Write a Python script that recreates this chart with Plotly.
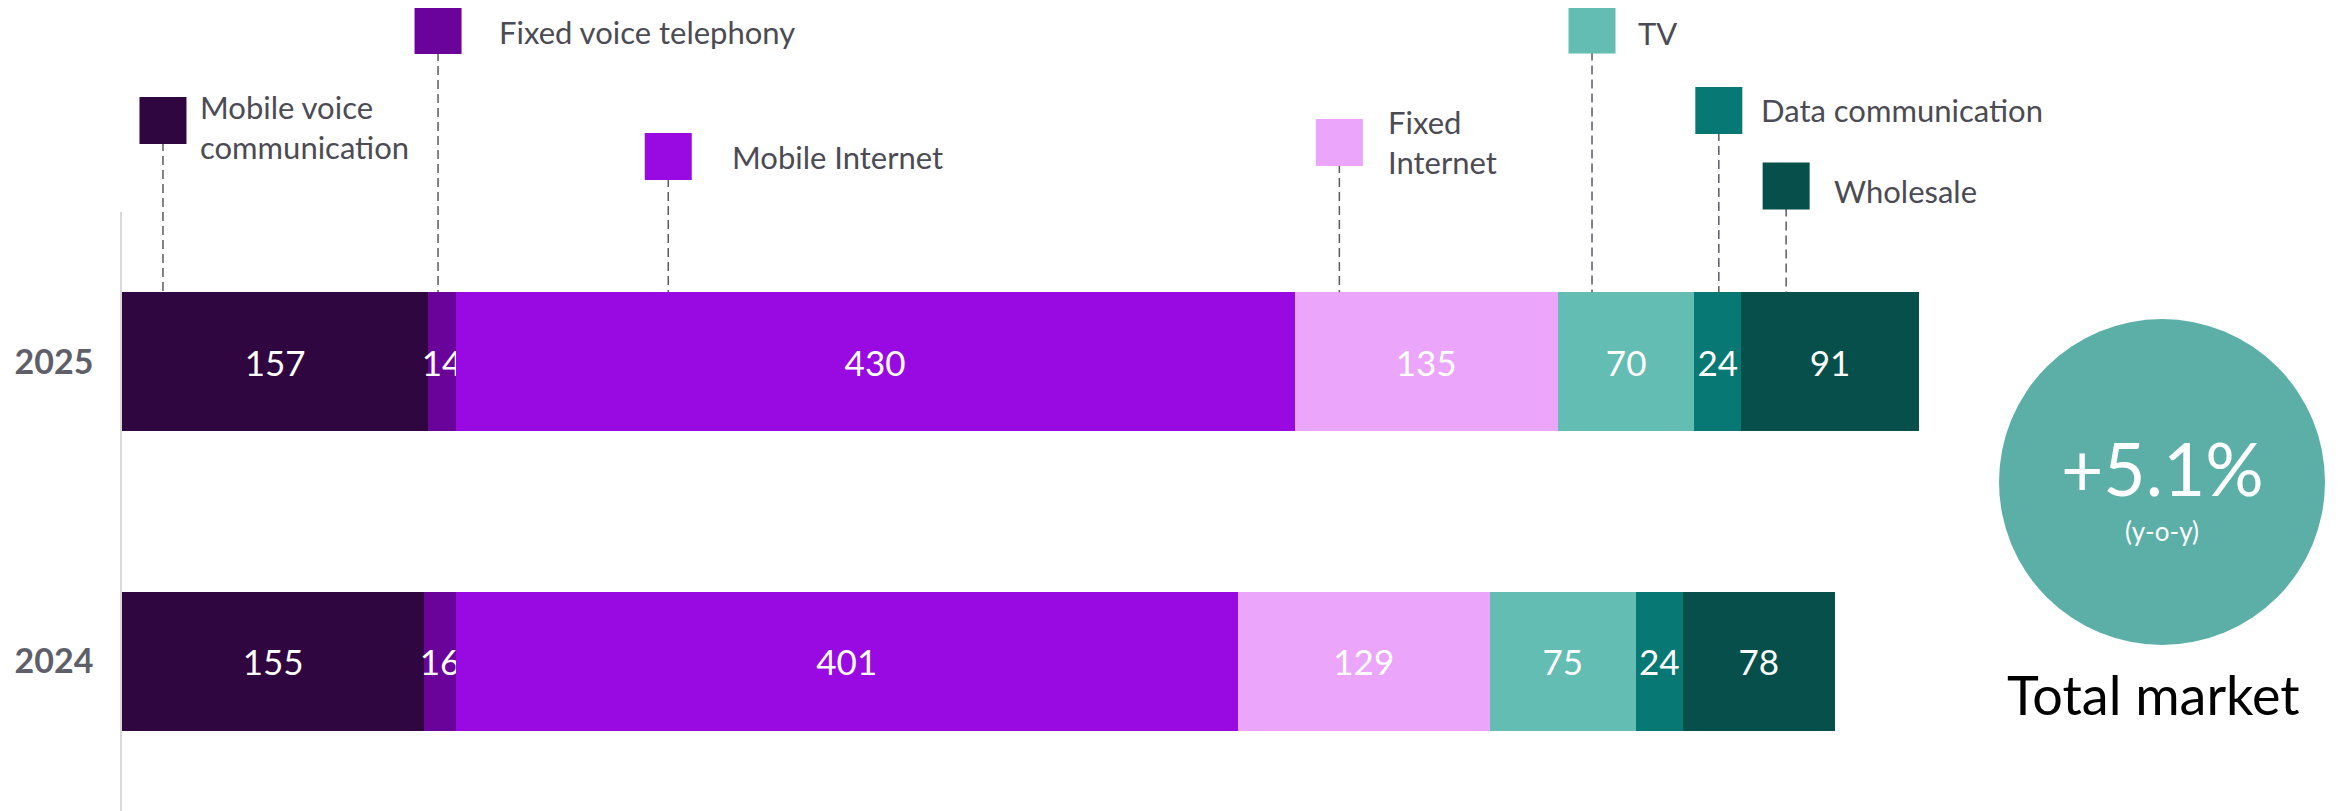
import plotly.graph_objects as go

# ---------------- data ----------------
years = ["2024", "2025"]
categories = ["Mobile voice communication", "Fixed voice telephony", "Mobile Internet",
              "Fixed Internet", "TV", "Data communication", "Wholesale"]
legend_labels = ["Mobile voice<br>communication", "Fixed voice telephony", "Mobile Internet",
                 "Fixed<br>Internet", "TV", "Data communication", "Wholesale"]
values_2024 = [155, 16, 401, 129, 75, 24, 78]
values_2025 = [157, 14, 430, 135, 70, 24, 91]
growth_label = "+5.1%"
growth_sub = "(y-o-y)"
total_label = "Total market"

# ---------------- styles ----------------
colors = ["#300641", "#6a0399", "#990ae3", "#eba6fc", "#64bdb3", "#077873", "#064f4a"]
FONT = "Lato, 'Open Sans', sans-serif"
TEXT_GREY = "#4b4b55"

OFF = 8  # page body margin added by the browser
W, H = 2341 - OFF, 811 - OFF
ML, MR, MT, MB = 122 - OFF, 73, 212 - OFF, 0
X_MAX = 1100
Y_RANGE = [-0.5, 1.5]
BAR_W = 0.464
plot_w = W - ML - MR
plot_h = H - MT - MB

# legend callout layout (per category), pixel values in screen coordinates
leader_offset = [21, 5, 109, 23, 17.5, 12.5, 23]          # data units into 2025 segment
marker_center_px = [120.5, 30.5, 156.5, 142.5, 30, 110.5, 186]
label_center_px = [127, 32, 157, 142, 33, 110, 191]
label_gap_px = [12, 35, 38, 23, 20, 17, 22]
MARKER = 47


def px_x(p):
    return (p - OFF - ML) / plot_w


def px_y(p):
    return 1 - (p - OFF - MT) / plot_h


fig = go.Figure()
for i, cat in enumerate(categories):
    vals = [values_2024[i], values_2025[i]]
    fig.add_trace(go.Bar(
        y=years, x=vals, orientation="h", name=cat,
        marker=dict(color=colors[i], line=dict(width=0)),
        text=[str(v) for v in vals], textposition="inside",
        insidetextanchor="middle", textangle=0,
        textfont=dict(color="white", size=35, family=FONT),
        showlegend=False, hoverinfo="x+name",
    ))

shapes = []
annotations = []

bar_top_paper = (1 + BAR_W / 2 - Y_RANGE[0]) / (Y_RANGE[1] - Y_RANGE[0])
starts = [sum(values_2025[:i]) for i in range(len(values_2025))]
for i, cat in enumerate(categories):
    xa = starts[i] + leader_offset[i]
    mc = marker_center_px[i]
    shapes.append(dict(type="line", xref="x", yref="paper",
                       x0=xa, x1=xa, y0=px_y(mc + MARKER / 2 - 2), y1=bar_top_paper,
                       line=dict(color="#5a5a64", width=1.5, dash="9px,5px"), layer="above"))
    shapes.append(dict(type="rect", xref="x", yref="paper", xsizemode="pixel", ysizemode="pixel",
                       xanchor=xa, yanchor=px_y(mc), x0=-MARKER / 2, x1=MARKER / 2,
                       y0=-MARKER / 2, y1=MARKER / 2,
                       fillcolor=colors[i], line=dict(width=0), layer="above"))
    annotations.append(dict(xref="x", yref="paper", x=xa, y=px_y(label_center_px[i]),
                            xanchor="left", yanchor="middle", align="left",
                            xshift=MARKER / 2 + label_gap_px[i],
                            text=legend_labels[i], showarrow=False,
                            font=dict(family=FONT, size=31, color=TEXT_GREY)))

# total market circle
CX, CY, R = 2162, 482, 163
shapes.append(dict(type="circle", xref="paper", yref="paper", xsizemode="pixel", ysizemode="pixel",
                   xanchor=px_x(CX), yanchor=px_y(CY), x0=-R, x1=R, y0=-R, y1=R,
                   fillcolor="#5bafa7", line=dict(width=0), layer="above"))
annotations.append(dict(xref="paper", yref="paper", x=px_x(CX), y=px_y(468),
                        xanchor="center", yanchor="middle", text=growth_label, showarrow=False,
                        font=dict(family=FONT, size=73, color="white")))
annotations.append(dict(xref="paper", yref="paper", x=px_x(CX), y=px_y(531),
                        xanchor="center", yanchor="middle", text=growth_sub, showarrow=False,
                        font=dict(family=FONT, size=26, color="white")))
annotations.append(dict(xref="paper", yref="paper", x=px_x(2153), y=px_y(694),
                        xanchor="center", yanchor="middle", text=total_label, showarrow=False,
                        font=dict(family=FONT, size=54, color="black")))

fig.update_layout(
    width=W, height=H,
    margin=dict(l=ML, r=MR, t=MT, b=MB, pad=0),
    barmode="stack", bargap=1 - BAR_W,
    plot_bgcolor="white", paper_bgcolor="white",
    shapes=shapes, annotations=annotations,
    uniformtext=dict(minsize=35, mode="show"),
    font=dict(family=FONT),
    xaxis=dict(range=[0, X_MAX], showgrid=False, zeroline=False, showticklabels=False,
               showline=False, fixedrange=True),
    yaxis=dict(type="category", categoryorder="array", categoryarray=years, range=Y_RANGE,
               showgrid=False, zeroline=False, showline=True, linecolor="#d9d9d9", linewidth=1.5,
               ticks="outside", ticklen=20, tickcolor="rgba(0,0,0,0)",
               tickfont=dict(family=FONT, size=34, color="#5f5f6b", weight=700)),
)

fig.write_html("out.html")
